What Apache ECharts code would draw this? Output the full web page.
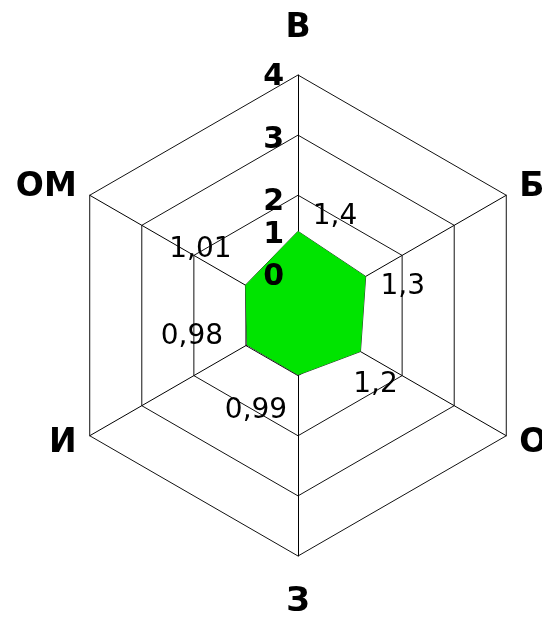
<!DOCTYPE html>
<html>
<head>
<meta charset="utf-8">
<script src="https://cdn.jsdelivr.net/npm/echarts@6/dist/echarts.min.js"></script>
<style>
  html, body { margin: 0; padding: 0; background: #fff; }
  #chart { width: 542px; height: 617px; }
</style>
</head>
<body>
<div id="chart"></div>
<script>
// данные (по часовой стрелке от верха)
var categories = ["В", "Б", "О", "З", "И", "ОМ"];
var values = [1.4, 1.3, 1.2, 0.99, 0.98, 1.01];
var axisMax = 4;
var tickLabels = ["0", "1", "2", "3", "4"];

var green = "#00e400";
var font = "DejaVu Sans";

// echarts рисует против часовой - переставляем оси
var order = [0, 5, 4, 3, 2, 1];

// сдвиг подписей значений (через padding rich-текста), ключ - индекс категории
var labelRich = {
  p0: { padding: [0, 0, 30, 74] },
  p1: { padding: [20, 0, 0, 74] },
  p2: { padding: [66, 0, 0, 30] },
  p3: { padding: [72, 84, 0, 0] },
  p4: { padding: [0, 110, 16, 0] },
  p5: { padding: [0, 90, 70, 0] }
};
// сдвиг подписей шкалы
var tickRich = {
  t0: { padding: [0, 0, 76, 0] },
  t1: { padding: [0, 0, 40, 0] },
  t2: { padding: [14, 0, 0, 0] },
  t3: { padding: [10, 0, 0, 0] },
  t4: { padding: [4, 0, 0, 0] }
};

var chart = echarts.init(document.getElementById("chart"));

function makeIndicators(withLabels) {
  return order.map(function (i) {
    var ind = { name: categories[i], max: axisMax, min: 0 };
    // верх и низ - подальше
    ind.nameGap = (i === 0 || i === 3) ? 30 : 15;
    if (withLabels && i === 0) {
      ind.axisLabel = {
        show: true,
        showMinLabel: true,
        margin: 14,
        fontFamily: font,
        fontWeight: "bold",
        fontSize: 30,
        color: "#000",
        formatter: function (v) {
          var k = tickLabels.indexOf(String(v));
          return "{t" + k + "|" + tickLabels[k] + "}";
        },
        rich: tickRich
      };
    }
    return ind;
  });
}

var base = {
  center: [298, 315.5],
  radius: 240.5,
  startAngle: 90,
  shape: "polygon",
  splitNumber: 4
};

chart.setOption({
  animation: false,
  radar: [
    // сетка - под заливкой
    Object.assign({}, base, {
      z: 1,
      indicator: makeIndicators(false),
      axisName: {
        color: "#000",
        fontFamily: font,
        fontWeight: "bold",
        fontSize: 33
      },
      axisLine: { lineStyle: { color: "#000", width: 1 } },
      splitLine: { lineStyle: { color: "#111", width: 1 } },
      splitArea: { show: false },
      axisTick: { show: false },
      axisLabel: { show: false }
    }),
    // подписи шкалы - поверх заливки
    Object.assign({}, base, {
      z: 5,
      indicator: makeIndicators(true),
      axisName: { show: false },
      axisLine: { show: false },
      splitLine: { show: false },
      splitArea: { show: false },
      axisTick: { show: false },
      axisLabel: { show: false }
    })
  ],
  series: [
    {
      type: "radar",
      radarIndex: 0,
      z: 2,
      symbol: "circle",
      symbolSize: 0.1,
      lineStyle: { color: "#333", width: 1 },
      itemStyle: { color: green },
      areaStyle: { color: green, opacity: 1 },
      label: {
        show: true,
        position: "inside",
        color: "#000",
        fontFamily: font,
        fontSize: 28,
        formatter: function (p) {
          var k = values.indexOf(p.value);
          return "{p" + k + "|" + String(p.value).replace(".", ",") + "}";
        },
        rich: labelRich
      },
      data: [{ value: order.map(function (i) { return values[i]; }), name: "Значения" }]
    }
  ]
});
</script>
</body>
</html>
